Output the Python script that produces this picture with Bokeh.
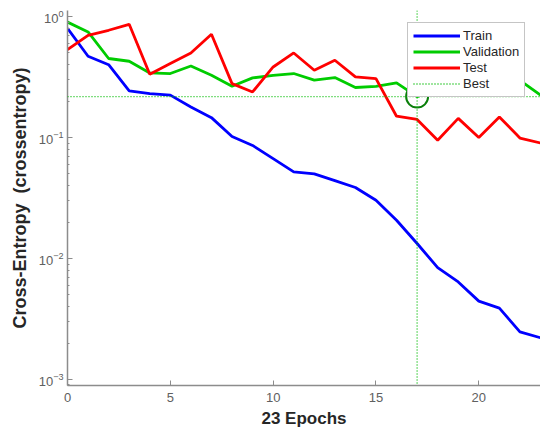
from bokeh.plotting import figure
from bokeh.models import Legend, LegendItem, FixedTicker, LogTickFormatter, Range1d, Span
from bokeh.embed import file_html
from bokeh.resources import INLINE

epochs = list(range(24))
train = [0.80, 0.47, 0.40, 0.243, 0.231, 0.224, 0.179, 0.146, 0.102, 0.086, 0.067,
         0.052, 0.050, 0.044, 0.0386, 0.0303, 0.0207, 0.0133, 0.0084, 0.0064, 0.00444,
         0.00389, 0.00247, 0.00221]
validation = [0.90, 0.746, 0.45, 0.427, 0.342, 0.338, 0.39, 0.327, 0.265, 0.311, 0.327,
              0.338, 0.298, 0.313, 0.259, 0.265, 0.283, 0.218, 0.25, 0.26, 0.27,
              0.28, 0.297, 0.224]
test = [0.533, 0.70, 0.77, 0.863, 0.334, 0.409, 0.50, 0.714, 0.279, 0.238, 0.383,
        0.50, 0.36, 0.435, 0.317, 0.307, 0.15, 0.141, 0.095, 0.144, 0.10,
        0.148, 0.099, 0.090]
best_epoch = 17
best_value = 0.218
x_ticks = [0, 5, 10, 15, 20]
y_ticks = [1e-3, 1e-2, 1e-1, 1e0]
x_label = "23 Epochs"
y_label = "Cross-Entropy\u00a0 (crossentropy)"

FONT = "Liberation Sans"

p = figure(width=540, height=430, y_axis_type="log", output_backend="svg",
           toolbar_location=None, x_range=Range1d(0, 23),
           y_range=Range1d(10 ** -3.05, 10 ** 0.05),
           min_border_left=67, min_border_right=0, min_border_top=10, min_border_bottom=44)
p.outline_line_color = None
p.grid.grid_line_color = None
p.background_fill_color = "white"

r_train = p.line(epochs, train, line_color="#0000ff", line_width=2.8)
r_val = p.line(epochs, validation, line_color="#00cc00", line_width=2.8)
r_test = p.line(epochs, test, line_color="#ff0000", line_width=2.8)

BEST = "#00bb00"
vline = Span(location=best_epoch, dimension="height", line_color=BEST,
             line_width=1.3, line_dash="1 2")
hline = Span(location=best_value, dimension="width", line_color=BEST,
             line_width=1.3, line_dash="1 2")
p.add_layout(vline)
p.add_layout(hline)
r_best = p.line([best_epoch], [best_value], line_color=BEST, line_width=1.3,
                line_dash="1 2")
p.scatter([best_epoch], [best_value], marker="circle", size=22, fill_color=None,
          line_color="#0a7f0a", line_width=2)

minor = [m * 10.0 ** e for e in range(-4, 1) for m in range(2, 10)]
p.yaxis.ticker = FixedTicker(ticks=y_ticks, minor_ticks=minor)
p.yaxis.formatter = LogTickFormatter()
p.xaxis.ticker = FixedTicker(ticks=x_ticks)

for ax in (p.xaxis[0], p.yaxis[0]):
    ax.axis_line_color = "#8c8c8c"
    ax.axis_line_width = 1.5
    ax.major_tick_line_color = "#8c8c8c"
    ax.major_tick_in = 5
    ax.major_tick_out = 0
    ax.minor_tick_line_color = "#8c8c8c"
    ax.minor_tick_in = 2
    ax.minor_tick_out = 0
    ax.major_label_text_font = FONT
    ax.major_label_text_font_size = "13px"
    ax.major_label_text_color = "#606060"
    ax.axis_label_text_font = FONT
    ax.axis_label_text_font_style = "bold"
    ax.axis_label_text_color = "#262626"
p.xaxis.axis_label_text_font_size = "17px"
p.yaxis.axis_label_text_font_size = "18px"
p.xaxis.minor_tick_line_color = None
p.xaxis.major_label_standoff = 7
p.xaxis.axis_label_standoff = 4
p.yaxis.major_label_standoff = 4
p.yaxis.axis_label_standoff = 6
p.xaxis.axis_label = x_label
p.yaxis.axis_label = y_label

legend = Legend(items=[LegendItem(label="Train", renderers=[r_train]),
                       LegendItem(label="Validation", renderers=[r_val]),
                       LegendItem(label="Test", renderers=[r_test]),
                       LegendItem(label="Best", renderers=[r_best])],
                location=(340, 288), border_line_color="#8c8c8c", border_line_width=1.5,
                label_text_font=FONT, label_text_font_size="13px", label_text_color="#262626",
                glyph_width=47, glyph_height=15, label_height=15, label_standoff=3,
                spacing=1, padding=5, margin=0, background_fill_alpha=1)
p.add_layout(legend, "center")

open("out.html", "w").write(file_html(p, INLINE))
